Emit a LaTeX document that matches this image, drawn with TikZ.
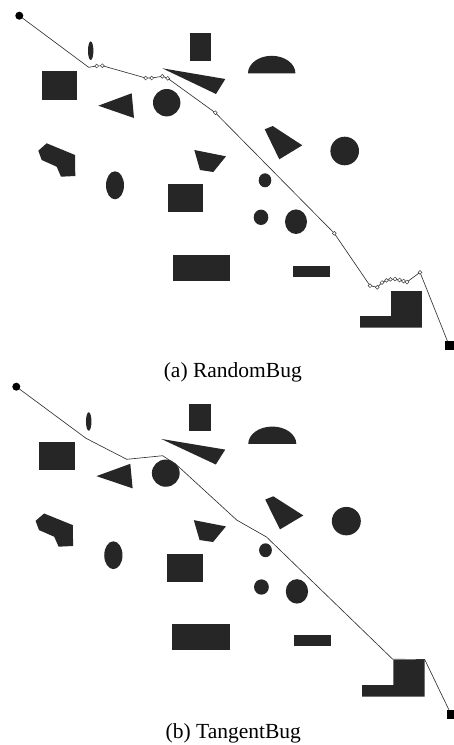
\documentclass[tikz,border=0pt]{standalone}
\usepackage{fontspec}
\setmainfont{Liberation Serif}
\usetikzlibrary{calc}
\begin{document}
\begin{tikzpicture}[x=1pt,y=-1pt,
  obst/.style={fill=obcol,draw=none},
  route/.style={draw=black!80,line width=0.65pt,line join=round},
  wp/.style={draw=black!75,fill=white,line width=0.5pt},
  caption/.style={anchor=base,font=\fontsize{21.5}{24}\selectfont,inner sep=0pt}]
\definecolor{obcol}{HTML}{262626}
\useasboundingbox (0,0) rectangle (454,745);
\clip (0,0) rectangle (454,745);

% the obstacle field, shared by both runs
\newcommand{\obstaclefield}{%
  \fill[obst] (90.7,50.7) ellipse [x radius=2.7, y radius=9.3];
  \fill[obst] (190,32.7) rectangle (211,60.7);
  \fill[obst] (42,71) rectangle (77.3,100);
  \fill[obst] (98.3,105.7) -- (131.7,93.3) -- (134,118) -- cycle;
  \fill[obst] (166.7,102.7) circle [radius=13.7];
  \fill[obst] (162.3,68.3) -- (225.3,79) -- (216,94) -- cycle;
  \fill[obst] (248,73.3) arc [start angle=180, end angle=360, x radius=23.7, y radius=17.5] -- cycle;
  \fill[obst] (38.3,150.7) -- (46.7,143.3) -- (75,155) -- (75.3,176) -- (61,176.7) -- (56.7,166.7) -- (41.7,160) -- cycle;
  \fill[obst] (115,185.3) ellipse [x radius=9, y radius=14];
  \fill[obst] (194.3,150) -- (226,156.3) -- (213.3,172) -- (200,170) -- cycle;
  \fill[obst] (264.7,129.3) -- (272.7,126) -- (302.3,145.3) -- (279.3,159.3) -- cycle;
  \fill[obst] (344.7,151) circle [radius=14.3];
  \fill[obst] (167.7,184) rectangle (203.3,212);
  \fill[obst] (265,180.3) ellipse [x radius=6.3, y radius=7];
  \fill[obst] (261,217.3) ellipse [x radius=7.3, y radius=7.7];
  \fill[obst] (296,221.7) ellipse [x radius=11, y radius=12.3];
  \fill[obst] (173.3,255) rectangle (230.3,281);
  \fill[obst] (292.7,265.7) rectangle (329.7,276.7);
  \fill[obst] (360.2,327.5) -- (360.2,316) -- (391,316) -- (391,291) -- (421.8,291) -- (421.8,327.5) -- cycle;
}

% ---------- RandomBug ----------
\obstaclefield
\coordinate (a0) at (19.3,15.7);
\coordinate (a1) at (88.7,67.3);
\coordinate (a2) at (96.7,66);
\coordinate (a3) at (102.3,65.7);
\coordinate (a4) at (145.7,78);
\coordinate (a5) at (151.7,78);
\coordinate (a6) at (162.3,76.3);
\coordinate (a7) at (167.7,78.3);
\coordinate (a8) at (215.3,112.7);
\coordinate (a9) at (334.3,233.3);
\coordinate (a10) at (370,285.7);
\coordinate (a11) at (377.3,287.3);
\coordinate (a12) at (382,282.5);
\coordinate (a13) at (386.5,280.3);
\coordinate (a14) at (390.5,279.3);
\coordinate (a15) at (395,279);
\coordinate (a16) at (399.5,280);
\coordinate (a17) at (403.5,281);
\coordinate (a18) at (407,282);
\coordinate (a19) at (420,272.3);
\coordinate (ga) at (449.3,345.8);
\draw[route] (a0) -- (a1) -- (a2) -- (a3) -- (a4) -- (a5) -- (a6) -- (a7) -- (a8)
  -- (a9) -- (a10) -- (a11) -- (a12) -- (a13) -- (a14) -- (a15) -- (a16) -- (a17)
  -- (a18) -- (a19) -- (ga);
\foreach \p in {a2,a3,a4,a5,a6,a7,a8,a9,a10,a11,a12,a13,a14,a15,a16,a17,a18,a19}
  \draw[wp] (\p) circle [radius=1.9];
\fill[black] (a0) circle [radius=4];
\fill[black] ($(ga)+(-4.3,-4.4)$) rectangle ($(ga)+(4.3,4.4)$);
\node[caption] (capa) at (232.8,377.7) {(a) RandomBug};

% ---------- TangentBug ----------
\begin{scope}[shift={(-3.27,371.1)}, xscale=1.0142, yscale=0.9936]
  \obstaclefield
\end{scope}
\coordinate (b0) at (16.3,386.7);
\coordinate (b1) at (86,438.3);
\coordinate (b2) at (126.7,459.3);
\coordinate (b3) at (162.7,455.7);
\coordinate (b4) at (176.7,465);
\coordinate (b5) at (236.7,520);
\coordinate (b6) at (266.5,537);
\coordinate (b7) at (392.7,659.2);
\coordinate (b8) at (424.7,659.5);
\coordinate (gb) at (451.2,714.6);
\draw[route] (b0) -- (b1) -- (b2) -- (b3) -- (b4) -- (b5) -- (b6) -- (b7) -- (b8) -- (gb);
\fill[black] (b0) circle [radius=4];
\fill[black] ($(gb)+(-4.3,-4.4)$) rectangle ($(gb)+(4.3,4.4)$);
\node[caption] (capb) at (233.3,738.3) {(b) TangentBug};
\end{tikzpicture}
\end{document}
